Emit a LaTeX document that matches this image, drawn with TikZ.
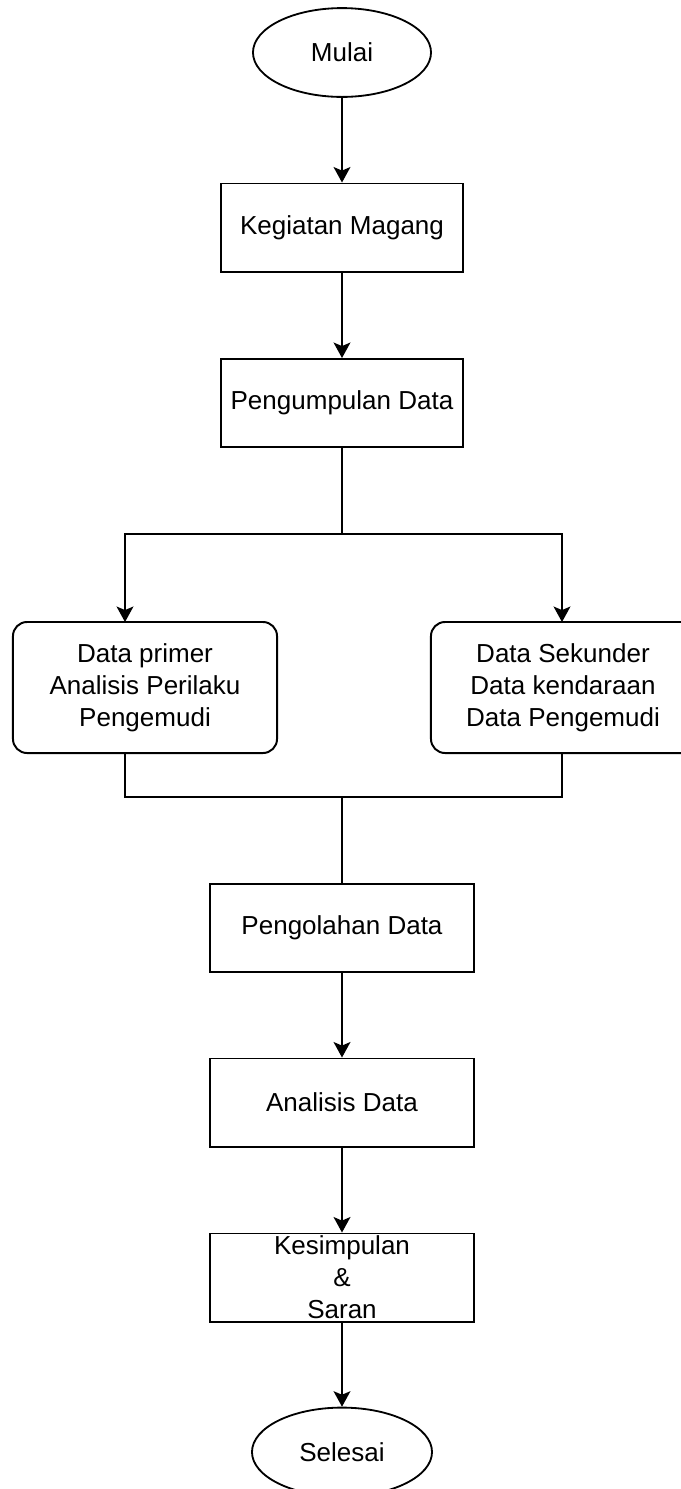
\documentclass[tikz,border=0pt]{standalone}
\usepackage{fontspec}
\setmainfont{Liberation Sans}
\usetikzlibrary{arrows.meta, shapes.geometric}

\begin{document}
\begin{tikzpicture}[x=0.025cm, y=-0.025cm, line width=1.1pt,
  >={Stealth[length=11pt, width=12pt, inset=2.5pt]},
  every node/.style={font=\fontsize{18.5pt}{22.8pt}\selectfont, align=center, inner sep=0pt},
  terminal/.style={ellipse, draw, line width=1.3pt, minimum width=4.45cm, minimum height=2.22cm},
  prosesbox/.style={rectangle, draw, line width=1.4pt, minimum width=6.6cm, minimum height=2.2cm},
  databox/.style={rectangle, draw, line width=1.4pt, rounded corners=10pt, minimum width=6.6cm, minimum height=3.275cm}]
\path[use as bounding box] (0,0) rectangle (681,1489);
\clip (0,0) rectangle (681,1489);
\node[terminal] at (342,52.5) (M) {Mulai};
\node[prosesbox, minimum width=6.025cm] at (342,227.5) (K) {Kegiatan Magang};
\node[prosesbox, minimum width=6.025cm] at (342,403) (P) {Pengumpulan Data};
\node[databox] at (145,687.5) (D1) {Data primer\\Analisis Perilaku\\Pengemudi};
\node[databox] at (563,687.5) (D2) {Data Sekunder\\Data kendaraan\\Data Pengemudi};
\node[prosesbox] at (342,928) (O) {Pengolahan Data};
\node[prosesbox] at (342,1102.5) (A) {Analisis Data};
\node[prosesbox] at (342,1277.5) (S) {Kesimpulan\\\&\\Saran};
\node[terminal, minimum width=4.5cm] at (342,1452) (E) {Selesai};
\coordinate (J1) at (342,534);
\coordinate (T1) at (125,622);
\coordinate (T2) at (562,622);
\coordinate (J2) at (342,797);
\draw[->] (M) edge (K);
\draw[->] (K) edge (P);
\draw (P) -- (J1);
\draw[->] (J1) -| (T1);
\draw[->] (J1) -| (T2);
\draw (D1.south -| T1) |- (J2);
\draw (D2.south -| T2) |- (J2);
\draw (J2) -- (O);
\draw[->] (O) edge (A);
\draw[->] (A) edge (S);
\draw[->] (S) edge (E);
\end{tikzpicture}
\end{document}
